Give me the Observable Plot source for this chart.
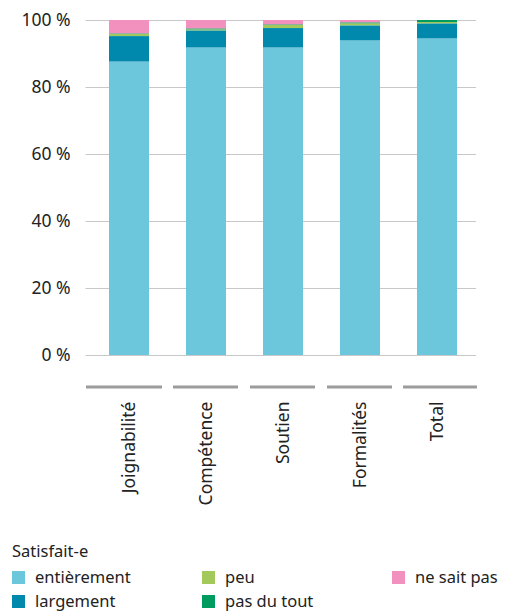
<!DOCTYPE html>
<html><head><meta charset="utf-8">
<script src="https://cdn.jsdelivr.net/npm/d3@7"></script>
<script src="https://cdn.jsdelivr.net/npm/@observablehq/plot@0.6"></script>
<style>
body{margin:0;background:#fff;font-family:"Noto Sans",sans-serif;color:#222;}
#wrap{position:relative;width:511px;height:614px;overflow:hidden;}
.lg{position:absolute;font-size:16.5px;line-height:17px;white-space:nowrap;}
.sw{position:absolute;width:13px;height:13px;}
</style></head><body><div id="wrap"><div id="chart"></div></div>
<script>
const categories = ["Joignabilité", "Compétence", "Soutien", "Formalités", "Total"];
const seriesNames = ["entièrement", "largement", "peu", "pas du tout", "ne sait pas"];
const seriesColors = ["#6cc7dc", "#0088ad", "#a3c95b", "#009b5f", "#f291bd"];
const entierement = [87.6, 91.8, 91.8, 93.9, 94.5];
const largement  = [7.6, 5.1, 5.8, 4.5, 4.5];
const peu        = [0.6, 0.3, 0.9, 0.6, 0.4];
const pasDuTout  = [0.2, 0.3, 0.2, 0.3, 0.6];
const neSaitPas  = [4.0, 2.5, 1.3, 0.7, 0.0];
const yTicks = [0, 20, 40, 60, 80, 100];
const legendTitle = "Satisfait-e";

const seriesValues = [entierement, largement, peu, pasDuTout, neSaitPas];
const data = [];
categories.forEach((c, i) => seriesNames.forEach((s, j) => data.push({category: c, serie: s, value: seriesValues[j][i]})));

const last = categories.length - 1;
const sepOpts = {x: d => d, y1: -9.1, y2: -10, fill: "#9c9c9c"};
const chart = Plot.plot({
  width: 511, height: 520,
  marginTop: 20, marginBottom: 165, marginLeft: 90, marginRight: 35,
  style: {fontFamily: "Noto Sans", fontSize: "17.5px", color: "#222", background: "white"},
  x: {domain: categories, paddingInner: 0.48, paddingOuter: 0.24, label: null},
  y: {domain: [0, 100], label: null},
  color: {domain: seriesNames, range: seriesColors},
  marks: [
    Plot.ruleY(yTicks, {stroke: "#c8c8c8", strokeWidth: 1, insetLeft: -4.5}),
    Plot.barY(data, {x: "category", y: "value", fill: "serie", order: seriesNames}),
    Plot.barY(categories, {...sepOpts, filter: (d, i) => i === 0, insetLeft: -23, insetRight: -13}),
    Plot.barY(categories, {...sepOpts, filter: (d, i) => i > 0 && i < last, insetLeft: -13, insetRight: -12}),
    Plot.barY(categories, {...sepOpts, filter: (d, i) => i === last, insetLeft: -14, insetRight: -20}),
    Plot.axisY({ticks: yTicks, tickSize: 0, tickPadding: 20, tickFormat: d => d + " %", label: null}),
    Plot.axisX({tickSize: 0, tickPadding: 46, tickRotate: -90, label: null})
  ]
});
const wrap = document.getElementById("wrap");
document.getElementById("chart").appendChild(chart);

const t = document.createElement("div");
t.className = "lg"; t.style.left = "12px"; t.style.top = "542px"; t.textContent = legendTitle;
wrap.appendChild(t);
const colX = [12, 202, 392], rowY = [568, 592];
seriesNames.forEach((s, i) => {
  const col = Math.floor(i / 2), row = i % 2;
  const sw = document.createElement("div");
  sw.className = "sw"; sw.style.background = seriesColors[i];
  sw.style.left = colX[col] + "px"; sw.style.top = (rowY[row] + 3) + "px";
  wrap.appendChild(sw);
  const lb = document.createElement("div");
  lb.className = "lg"; lb.textContent = s;
  lb.style.left = (colX[col] + 23) + "px"; lb.style.top = (rowY[row]) + "px";
  wrap.appendChild(lb);
});
</script></body></html>
